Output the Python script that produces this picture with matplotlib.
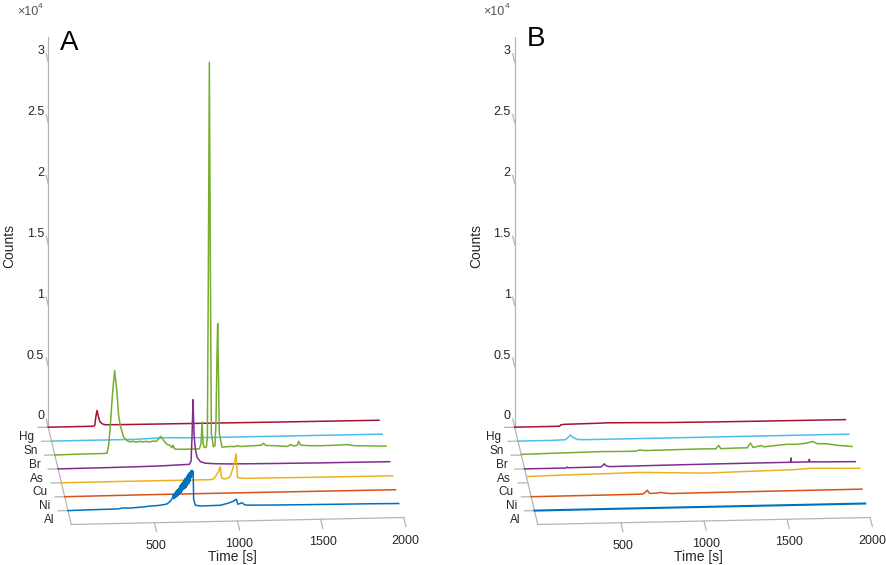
import numpy as np
import matplotlib.pyplot as plt
import matplotlib.transforms as mtransforms

plt.rcParams['font.family'] = ['Liberation Sans', 'DejaVu Sans']

elements = ["Al", "Ni", "Cu", "As", "Br", "Sn", "Hg"]
colors = ["#0072BD", "#D95319", "#EDB120", "#7E2F8E", "#77AC30", "#4DBEEE", "#A2142F"]

time_ticks = [500, 1000, 1500, 2000]
count_ticks = [0, 5000, 10000, 15000, 20000, 25000, 30000]
count_labels = ["0", "0.5", "1", "1.5", "2", "2.5", "3"]

# ---- panel A : time [s] and counts
a_al_t = [0, 150, 300, 330, 375, 450, 495, 540, 575, 596, 616, 630,
          634, 638, 642, 646, 650, 654, 658, 662, 666, 670, 674, 678, 682, 686, 690,
          694, 698, 702, 706, 710, 714, 718, 722, 726, 730, 734, 738, 742, 746, 750, 753,
          756, 766, 796, 850, 916, 964, 995, 1013, 1018, 1022, 1035, 1047, 1060, 1073,
          1200, 1398, 1600, 1800, 1990]
a_al_c = [0, 30, 50, 120, 100, 170, 230, 260, 320, 380, 590, 900,
          1170, 800, 1250, 880, 1400, 950, 1520, 1050, 1650, 1150, 1850, 1250, 2000, 1400, 2150,
          1550, 2300, 1600, 2450, 1700, 2600, 1850, 2750, 2000, 2900, 2200, 3050, 2500, 3100, 2700, 3000,
          700, 220, 150, 160, 175, 330, 490, 645, 400, 230, 280, 350, 200, 140,
          110, 80, 60, 40, 10]
a_ni_t = [0, 500, 1000, 1500, 1990]
a_ni_c = [0, 20, 20, 10, 0]
a_cu_t = [0, 400, 896, 914, 930, 945, 956, 960, 964, 986,
          1010, 1020, 1034, 1045, 1052, 1056, 1060, 1100, 1500, 1993]
a_cu_c = [0, 10, 0, 50, 300, 650, 1045, 500, 100, 30,
          150, 400, 1000, 1600, 2070, 900, 120, 50, 20, 0]
a_as_t = [0, 300, 600, 715, 790, 800, 806, 812, 815, 818,
          822, 826, 836, 856, 886, 950, 1036, 1300, 1600, 1995]
a_as_c = [0, 20, 60, 115, 150, 400, 2500, 5450, 4000, 2600,
          1900, 1400, 715, 350, 210, 150, 110, 70, 40, 20]
a_br_t = [0, 150, 304, 314, 324, 334, 348, 360, 374, 384,
          394, 414, 434, 450, 470, 490, 510, 530, 550,
          570, 590, 611, 625, 638, 655, 675, 695, 705, 712,
          720, 735, 760, 800, 840, 870, 880, 886, 892, 900,
          912, 918, 924, 930, 936, 942, 954, 964, 970, 976,
          980, 984, 990, 1006, 1050, 1080, 1104, 1115, 1150, 1200,
          1245, 1256, 1270, 1330, 1400, 1417, 1440, 1460, 1467, 1480,
          1530, 1600, 1700, 1758, 1800, 1900, 1993]
a_br_c = [0, 30, 40, 60, 700, 2310, 5080, 6830, 5070, 3120,
          2300, 1350, 1070, 950, 1000, 900, 980, 920, 960,
          900, 980, 940, 1150, 1350, 1000, 680, 580, 400, 600,
          300, 260, 250, 250, 260, 260, 700, 2450, 700, 350,
          400, 1200, 15000, 32000, 15000, 1500, 400, 500, 2500, 8000,
          10500, 7000, 1500, 355, 400, 380, 450, 380, 400, 420,
          450, 610, 420, 380, 300, 450, 320, 400, 690, 380,
          330, 300, 320, 355, 250, 200, 157]
a_sn_t = [0, 500, 620, 700, 800, 1000, 1500, 1990]
a_sn_c = [0, 0, 60, 80, 40, 20, 10, 0]
a_hg_t = [0, 270, 280, 287, 294, 300, 310, 325, 345, 500, 1000, 1500, 1990]
a_hg_c = [0, 0, 50, 800, 1300, 900, 400, 180, 100, 80, 50, 20, 0]

# ---- panel B
b_al_t = [0, 500, 1000, 1500, 1990]
b_al_c = [0, 10, 10, 10, 10]
b_ni_t = [0, 500, 670, 685, 699, 710, 720, 760, 777, 800, 838, 1000, 1500, 1990]
b_ni_c = [0, 10, 20, 150, 330, 100, 60, 80, 130, 80, 20, 30, 40, 50]
b_cu_t = [0, 150, 315, 500, 676, 900, 1077, 1250, 1428, 1600, 1700, 1800, 1900, 1996]
b_cu_c = [520, 560, 595, 620, 660, 560, 490, 540, 580, 620, 700, 680, 640, 620]
b_as_t = [0, 250, 255, 262, 300, 460, 470, 480, 490, 510, 800, 1200,
          1500, 1600, 1603, 1605, 1608, 1650, 1710, 1713, 1716, 1800, 1990]
b_as_c = [0, 0, 80, 20, 20, 30, 150, 280, 120, 40, 60, 80,
          85, 85, 440, 90, 85, 85, 85, 290, 85, 60, 25]
b_br_t = [0, 200, 475, 600, 686, 716, 740, 900, 1087, 1170, 1187, 1200, 1300, 1360,
          1378, 1395, 1444, 1460, 1528, 1600, 1650, 1700, 1755, 1780, 1840, 1900, 1990]
b_br_c = [50, 90, 140, 120, 115, 215, 150, 170, 190, 170, 440, 180, 200, 200,
          580, 220, 365, 250, 340, 420, 400, 450, 600, 420, 390, 250, 125]
b_sn_t = [0, 200, 285, 300, 315, 330, 357, 400, 1000, 1500, 1990]
b_sn_c = [0, 0, 30, 200, 410, 220, 30, 0, 0, 0, 0]
b_hg_t = [0, 270, 278, 300, 500, 555, 700, 900, 1200, 1500, 1800, 1990]
b_hg_c = [0, 0, 120, 150, 180, 200, 170, 120, 90, 70, 60, 50]

series_a = [(a_al_t, a_al_c), (a_ni_t, a_ni_c), (a_cu_t, a_cu_c), (a_as_t, a_as_c),
            (a_br_t, a_br_c), (a_sn_t, a_sn_c), (a_hg_t, a_hg_c)]
series_b = [(b_al_t, b_al_c), (b_ni_t, b_ni_c), (b_cu_t, b_cu_c), (b_as_t, b_as_c),
            (b_br_t, b_br_c), (b_sn_t, b_sn_c), (b_hg_t, b_hg_c)]

T_MAX = 2000
K_MAX = 7
Z_MAX = max(a_br_c) + 50

# view of the MATLAB plot3 (pixels)
W, H = 886, 565
PX_S = 0.1662      # px per second
PX_C = 0.01217     # px per count
K_DX, K_DY = -3.3, 13.9   # px shift per element row (right, up)
T_DY = 0.0035      # px rise per second

DT_K = K_DX / PX_S
DC_K = K_DY / PX_C
DC_T = T_DY / PX_C

TXT = "#262626"
EDGE = "#b5b5b5"


def xy(t, k, z):
    t, k, z = np.broadcast_arrays(np.asarray(t, float), np.asarray(k, float),
                                  np.asarray(z, float))
    return t + DT_K * k, z + DC_T * t + DC_K * k


def pt(t, k, z):
    x, y = xy(t, k, z)
    return float(x), float(y)


def shear(ax, k):
    m = np.array([[1, 0, DT_K * k], [DC_T, 1, DC_K * k], [0, 0, 1]])
    return mtransforms.Affine2D(m) + ax.transData


def panel(fig, ox, oy, series, letter, letter_base):
    ax = fig.add_axes([0, 0, 1, 1])
    ax.set_xlim(-ox / PX_S, (W - ox) / PX_S)
    ax.set_ylim((oy - H) / PX_C, oy / PX_C)
    ax.axis("off")
    ax.patch.set_visible(False)

    for k, (t, c) in enumerate(series, start=1):
        lw = 1.5 if (letter == "B" and k == 1) else 1.1
        ax.plot(t, c, color=colors[k - 1], lw=lw, transform=shear(ax, k),
                zorder=10 - k, solid_joinstyle="round")

    # box edges
    ax.plot(*xy([0, T_MAX], 0, 0), color=EDGE, lw=0.9, zorder=1)
    ax.plot(*xy(0, [0, K_MAX], 0), color=EDGE, lw=0.9, zorder=1)
    ax.plot(*xy(0, K_MAX, [0, Z_MAX]), color=EDGE, lw=0.9, zorder=1)

    for t in time_ticks:
        ax.plot(*xy(t, [0, -0.65], 0), color=EDGE, lw=0.9, zorder=1)
        ax.annotate(str(t), pt(t, 0, 0), xytext=(2, -26), textcoords="offset pixels",
                    ha="center", va="baseline", fontsize=9, color=TXT)
    for k, name in enumerate(elements, start=1):
        ax.plot(*xy([0, -60], k, 0), color=EDGE, lw=0.9, zorder=1)
        ax.annotate(name, pt(-60, k, 0), xytext=(-4, -12.4), textcoords="offset pixels",
                    ha="right", va="baseline", fontsize=8.5, color=TXT)
    for z, lab in zip(count_ticks, count_labels):
        ax.plot(*xy(0, [K_MAX, K_MAX + 0.6], z), color=EDGE, lw=0.9, zorder=1)
        ax.annotate(lab, pt(0, K_MAX + 0.6, z), xytext=(-2, 4), textcoords="offset pixels",
                    ha="right", va="center_baseline", fontsize=9, color=TXT)

    fig.text((ox + 161) / W, 1 - 561 / H, "Time [s]", ha="center", va="baseline",
             fontsize=10, color=TXT)
    fig.text((ox - 62) / W, 1 - 246 / H, "Counts", rotation=90, ha="center", va="center",
             fontsize=10, color=TXT)
    fig.text((ox - 54.5) / W, 1 - 15 / H, "\u00d710", ha="left", va="baseline",
             fontsize=9, color="#555555")
    fig.text((ox - 33) / W, 1 - 8 / H, "4", ha="left", va="baseline",
             fontsize=6, color="#555555")
    fig.text((ox - 11) / W, 1 - letter_base / H, letter, ha="left", va="baseline",
             fontsize=20, color="black")
    return ax


fig = plt.figure(figsize=(W / 100, H / 100), dpi=100)
panel(fig, 71.3, 524.5, series_a, "A", 50)
panel(fig, 537.8, 524.5, series_b, "B", 46)
fig.savefig("out.png", dpi=100)
